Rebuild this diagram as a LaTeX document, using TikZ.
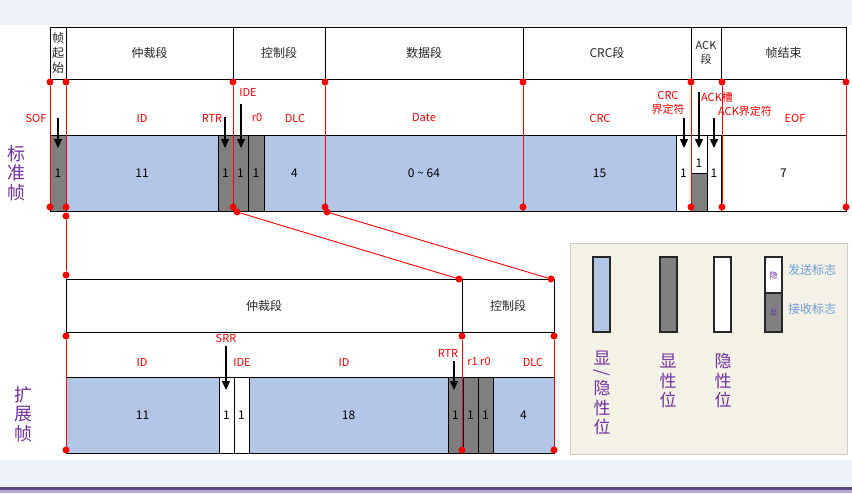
\documentclass[tikz,border=0pt]{standalone}
\usepackage{fontspec}
\setmainfont{Noto Sans CJK SC}
\usepackage{xcolor}
\usepackage{tikz}
\usetikzlibrary{arrows.meta, positioning}
\definecolor{canband}{RGB}{237, 241, 249}
\definecolor{canblue}{RGB}{180, 198, 231}
\definecolor{cangray}{RGB}{127, 127, 127}
\definecolor{canred}{RGB}{255, 0, 0}
\definecolor{canpurple}{RGB}{112, 48, 160}
\definecolor{canlegend}{RGB}{244, 241, 230}
\definecolor{canflag}{RGB}{108, 156, 214}
\definecolor{canhead}{RGB}{38, 38, 38}
\definecolor{canline}{RGB}{92, 74, 122}
\definecolor{canlilac}{RGB}{185, 166, 214}

\begin{document}
\begin{tikzpicture}[x=1pt, y=-1pt, node distance=0pt,
    headbox/.style={draw=black, line width=0.8pt, fill=white, inner sep=0pt, outer sep=0pt,
          minimum height=52pt, align=center, text=canhead, font=\fontsize{12}{15}\selectfont},
    bitcell/.style={draw=black, line width=1pt, inner sep=0pt, outer sep=0pt,
          minimum height=76pt, font=\fontsize{12}{14}\selectfont},
    bitblue/.style={bitcell, fill=canblue},
    bitgray/.style={bitcell, fill=cangray},
    bitwhite/.style={bitcell, fill=white},
    redlabel/.style={text=canred, inner sep=0pt, align=center, font=\fontsize{11}{14}\selectfont},
    reddot/.style={circle, fill=canred, inner sep=0pt, minimum size=7pt},
    redlink/.style={draw=canred, line width=0.9pt},
    flagarrow/.style={-{Triangle[width=8pt,length=9pt]}, line width=1.4pt},
    sidelabel/.style={text=canpurple, align=center, font=\fontsize{18}{19.5}\selectfont},
    legbar/.style={draw=black!85, line width=1.2pt, inner sep=0pt, outer sep=0pt,
          minimum width=17pt, minimum height=75pt},
    legtext/.style={text=canpurple, align=center, inner sep=0pt, font=\fontsize{17}{19.5}\selectfont},
    flagtext/.style={text=canflag, inner sep=0pt, font=\fontsize{12}{14}\selectfont}]
    \useasboundingbox (0,0) rectangle (852,493);

    % Background
    \fill[canband] (0,0) rectangle (852,25);
    \fill[white] (0,25) rectangle (852,460);
    \fill[canband] (0,460) rectangle (852,487);
    \fill[canline] (0,487) rectangle (852,490);
    \fill[canlilac] (0,490) rectangle (852,493);

    % Standard frame: segments
    \node[headbox, minimum width=16pt, anchor=north west] (hsof) at (50,27) {帧\\起\\始};
    \node[headbox, minimum width=167pt, right=of hsof] (harb) {仲裁段};
    \node[headbox, minimum width=92pt, right=of harb] (hctl) {控制段};
    \node[headbox, minimum width=198pt, right=of hctl] (hdata) {数据段};
    \node[headbox, minimum width=168pt, right=of hdata] (hcrc) {CRC段};
    \node[headbox, minimum width=30pt, right=of hcrc, font=\fontsize{11}{14}\selectfont] (hack) {ACK\\段};
    \node[headbox, minimum width=125pt, right=of hack] (heof) {帧结束};

    % Standard frame: bits
    \node[bitgray, minimum width=16pt, anchor=north west] (bsof) at (50,135) {1};
    \node[bitblue, minimum width=152pt, right=of bsof] (bid) {11};
    \node[bitgray, minimum width=15pt, right=of bid] (brtr) {1};
    \node[bitgray, minimum width=15pt, right=of brtr] (bide) {1};
    \node[bitgray, minimum width=16pt, right=of bide] (brzero) {1};
    \node[bitblue, minimum width=61pt, right=of brzero] (bdlc) {4};
    \node[bitblue, minimum width=198pt, right=of bdlc] (bdata) {0 \textasciitilde{} 64};
    \node[bitblue, minimum width=153pt, right=of bdata] (bcrc) {15};
    \node[bitwhite, minimum width=15pt, right=of bcrc] (bcrcdel) {1};
    \node[bitwhite, minimum width=16pt, minimum height=38pt, text height=26pt, text depth=0pt,
          anchor=north west] (backslot) at (bcrcdel.north east) {1};
    \node[bitgray, minimum width=16pt, minimum height=38pt, below=of backslot] (backdom) {};
    \node[bitwhite, minimum width=14pt, anchor=north west] (backdel) at (backslot.north east) {1};
    \node[bitwhite, minimum width=125pt, right=of backdel] (beof) {7};

    % Standard frame: field names
    \node[redlabel] (lsof) at (36,118) {SOF};
    \node[redlabel] (lid) at (142,118) {ID};
    \node[redlabel] (lrtr) at (212,118) {RTR};
    \node[redlabel] (lide) at (248,92) {IDE};
    \node[redlabel] (lrzero) at (257,118) {r0};
    \node[redlabel] (ldlc) at (295,118) {DLC};
    \node[redlabel] (ldata) at (424,118) {Date};
    \node[redlabel] (lcrc) at (600,118) {CRC};
    \node[redlabel] (lcrcdel) at (668,103) {CRC\\界定符};
    \node[redlabel] (lackslot) at (717,97) {ACK槽};
    \node[redlabel] (lackdel) at (745,111) {ACK界定符};
    \node[redlabel] (leof) at (795,118) {EOF};

    % Standard frame: arrows
    \foreach \n/\x/\y in {sof/58/118, rtr/225/117, ide/241/104, crcdel/684/118, ackslot/699/92, ackdel/714/118} {
        \coordinate (\n top) at (\x,\y);
        \coordinate (\n tip) at (\x,148);
        \draw[flagarrow] (\n top) -- (\n tip);
    }

    % Standard frame: red bounds
    \foreach \x [count=\i] in {50,66,233,325,523,691,722,846} {
        \node[reddot] (sa\i) at (\x,82) {};
        \node[reddot] (sb\i) at (\x,207) {};
        \draw[redlink] (sa\i) -- (sb\i);
    }

    % Extended frame: segments
    \node[headbox, minimum width=396pt, minimum height=53pt, anchor=north west] (xarb) at (66,279) {仲裁段};
    \node[headbox, minimum width=92pt, minimum height=53pt, right=of xarb] (xctl) {控制段};

    % Extended frame: bits
    \node[bitblue, minimum width=153pt, anchor=north west] (xid) at (66,377) {11};
    \node[bitwhite, minimum width=15pt, right=of xid] (xsrr) {1};
    \node[bitwhite, minimum width=15pt, right=of xsrr] (xide) {1};
    \node[bitblue, minimum width=199pt, right=of xide] (xidext) {18};
    \node[bitgray, minimum width=15pt, right=of xidext] (xrtr) {1};
    \node[bitgray, minimum width=15pt, right=of xrtr] (xrone) {1};
    \node[bitgray, minimum width=15pt, right=of xrone] (xrzero) {1};
    \node[bitblue, minimum width=61pt, right=of xrzero] (xdlc) {4};

    % Extended frame: field names
    \node[redlabel] (mid) at (142,362) {ID};
    \node[redlabel] (msrr) at (226,338) {SRR};
    \node[redlabel] (mide) at (242,362) {IDE};
    \node[redlabel] (midext) at (344,362) {ID};
    \node[redlabel] (mrtr) at (448,353) {RTR};
    \node[redlabel] (mres) at (479,362) {r1 r0};
    \node[redlabel] (mdlc) at (533,362) {DLC};

    % Extended frame: arrows
    \foreach \n/\x/\y in {srr/226/346, xrtr/454/361} {
        \coordinate (\n top) at (\x,\y);
        \coordinate (\n tip) at (\x,390);
        \draw[flagarrow] (\n top) -- (\n tip);
    }

    % Extended frame: red bounds
    \foreach \x [count=\i] in {66,462,554} {
        \node[reddot] (xa\i) at (\x,336) {};
        \node[reddot] (xb\i) at (\x,450) {};
        \draw[redlink] (xa\i) -- (xb\i);
    }

    % Links between the two frames
    \node[reddot] (ka) at (66,216) {};
    \node[reddot] (kb) at (66,275) {};
    \node[reddot] (kc) at (237,212) {};
    \node[reddot] (kd) at (459,279) {};
    \node[reddot] (ke) at (327,212) {};
    \node[reddot] (kf) at (551,279) {};
    \draw[redlink] (ka) -- (kb);
    \draw[redlink] (kc) -- (kd);
    \draw[redlink] (ke) -- (kf);

    % Frame names
    \node[sidelabel] (nstd) at (17,173) {标\\准\\帧};
    \node[sidelabel] (next) at (24,414) {扩\\展\\帧};

    % Legend
    \node[draw=canlegend!85!black, line width=0.4pt, fill=canlegend, inner sep=0pt,
          minimum width=277pt, minimum height=211pt, anchor=north west] (legend) at (570,243) {};
    \node[legbar, fill=canblue, anchor=north west] (gblue) at (593,257) {};
    \node[legbar, fill=cangray, anchor=north west] (ggray) at (660,257) {};
    \node[legbar, fill=white, anchor=north west] (gwhite) at (714,257) {};
    \node[legbar, fill=white, minimum height=36pt, anchor=north west, text=canpurple,
          font=\fontsize{8}{8}\selectfont] (gsend) at (765,257) {隐};
    \node[legbar, fill=cangray, minimum height=39pt, below=of gsend, text=canpurple,
          font=\fontsize{8}{8}\selectfont] (grecv) {显};
    \node[flagtext, anchor=west] (tsend) at (788,270) {发送标志};
    \node[flagtext, anchor=west] (trecv) at (788,309) {接收标志};
    \node[legtext] (tblue) at (602,393) {显\\[-6pt]\rotatebox[origin=c]{-90}{/}\\[-3pt]隐\\性\\位};
    \node[legtext] (tgray) at (668,381) {显\\性\\位};
    \node[legtext] (twhite) at (723,381) {隐\\性\\位};
\end{tikzpicture}
\end{document}
